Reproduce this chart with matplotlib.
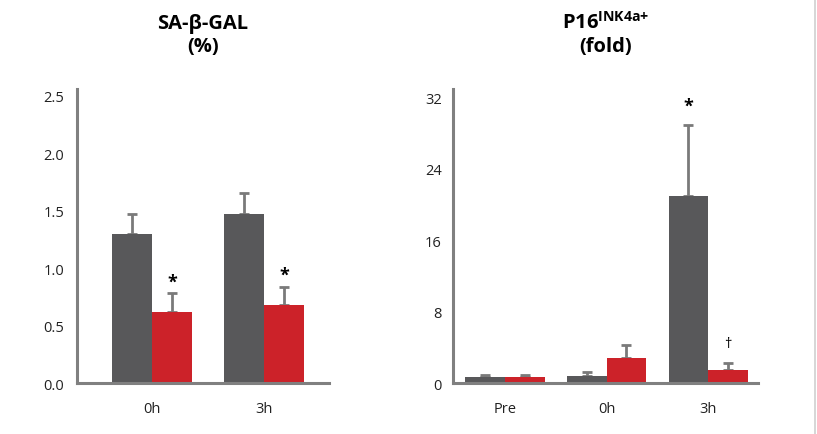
import numpy as np
import matplotlib
matplotlib.use("Agg")
import matplotlib.pyplot as plt

plt.rcParams['font.family'] = ['Open Sans', 'DejaVu Sans']
plt.rcParams['mathtext.fontset'] = 'custom'
plt.rcParams['mathtext.rm'] = 'Open Sans'
plt.rcParams['mathtext.bf'] = 'Open Sans:bold'

# SA-beta-GAL (%)
sa_groups = ['0h', '3h']
sa_dark = [1.30, 1.47]
sa_dark_err = [0.17, 0.18]
sa_red = [0.615, 0.68]
sa_red_err = [0.165, 0.16]
sa_ticks = [0.0, 0.5, 1.0, 1.5, 2.0, 2.5]
sa_marks = ['*', '*']

# P16 INK4a+ (fold)
p16_groups = ['Pre', '0h', '3h']
p16_dark = [0.7, 0.8, 20.9]
p16_dark_err = [0.2, 0.45, 8.0]
p16_red = [0.7, 2.8, 1.45]
p16_red_err = [0.2, 1.5, 0.75]
p16_ticks = [0, 8, 16, 24, 32]
p16_dark_marks = ['', '', '*']
p16_red_marks = ['', '', '\u2020']

DARK = '#58585a'
RED = '#cc2229'
AXC = '#808080'
ERRC = '#7a7a7a'

fig = plt.figure(figsize=(8.17, 4.35), dpi=100)
ax1 = fig.add_axes([0.0942, 0.1172, 0.3085, 0.676])
ax2 = fig.add_axes([0.5545, 0.1172, 0.3733, 0.676])


def style(ax, ticks, fmt, pad):
    for s in ['top', 'right']:
        ax.spines[s].set_visible(False)
    for s in ['left', 'bottom']:
        ax.spines[s].set_color(AXC)
        ax.spines[s].set_linewidth(2.2)
    ax.set_yticks(ticks)
    ax.set_yticklabels([fmt % t for t in ticks])
    ax.tick_params(axis='y', length=0, pad=pad, labelsize=10.5, colors='#222222')
    ax.tick_params(axis='x', length=0, pad=13, labelsize=10.5, colors='#222222')


def bars(ax, groups, dark, dark_err, red, red_err, w):
    x = np.arange(len(groups))
    ekw = dict(ecolor=ERRC, elinewidth=2, capsize=3.5, capthick=2)
    ax.bar(x - w / 2, dark, w, color=DARK, zorder=2)
    ax.bar(x + w / 2, red, w, color=RED, zorder=2)
    ax.errorbar(x - w / 2, dark, yerr=[np.zeros(len(x)), dark_err], fmt='none', zorder=1, **ekw)
    ax.errorbar(x + w / 2, red, yerr=[np.zeros(len(x)), red_err], fmt='none', zorder=1, **ekw)
    ax.set_xticks(x)
    ax.set_xticklabels(groups)
    return x


# left chart
x1 = bars(ax1, sa_groups, sa_dark, sa_dark_err, sa_red, sa_red_err, 0.357)
ax1.set_xlim(-0.67, 1.58)
ax1.set_ylim(0, 2.56)
style(ax1, sa_ticks, '%.1f', 9)
for xi, v, e, m in zip(x1, sa_red, sa_red_err, sa_marks):
    ax1.text(xi + 0.357 / 2, v + e + 0.02, m, ha='center', va='bottom',
             fontsize=13, fontweight='bold', color='black')
ax1.set_title('SA-\u03b2-GAL\n(%)', fontsize=14.5, fontweight='bold', pad=27,
              linespacing=1.25)

# right chart
x2 = bars(ax2, p16_groups, p16_dark, p16_dark_err, p16_red, p16_red_err, 0.39)
ax2.set_xlim(-0.51, 2.49)
ax2.set_ylim(0, 32.9)
style(ax2, p16_ticks, '%d', 8)
for xi, v, e, m in zip(x2, p16_dark, p16_dark_err, p16_dark_marks):
    if m:
        ax2.text(xi - 0.39 / 2, v + e + 1.1, m, ha='center', va='bottom',
                 fontsize=13, fontweight='bold', color='black')
for xi, v, e, m in zip(x2, p16_red, p16_red_err, p16_red_marks):
    if m:
        ax2.text(xi + 0.39 / 2, v + e + 1.4, m, ha='center', va='bottom',
                 fontsize=10.5, color='black')
ax2.set_title(r'$\mathbf{P16}^{\mathbf{INK4a{+}}}$' + '\n(fold)', fontsize=14.5,
              fontweight='bold', pad=27, linespacing=1.25)

# thin frame line on the right edge
fig.add_artist(plt.Line2D([0.998, 0.998], [0, 1], color='#cfcfcf', lw=1.2))

fig.savefig('out.png', dpi=100)
